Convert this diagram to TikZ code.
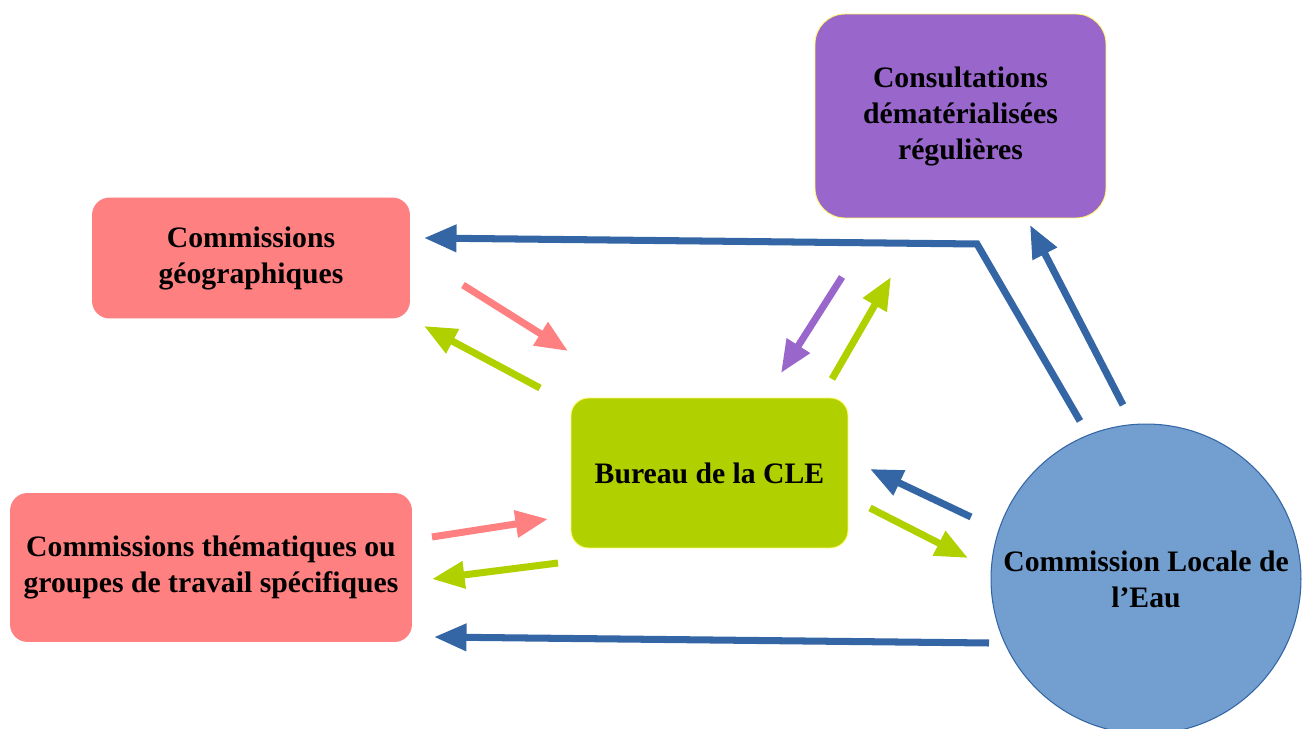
\documentclass[tikz,border=0pt]{standalone}
\usepackage{fontspec}
\setmainfont{Liberation Serif}
\usetikzlibrary{arrows.meta}
\definecolor{rose}{HTML}{FF8080}\definecolor{lime}{HTML}{B0D000}\definecolor{mauve}{HTML}{9966CC}
\definecolor{ciel}{HTML}{729FCF}\definecolor{marine}{HTML}{3465A4}
\tikzset{b/.style={rounded corners=10pt,align=center,font=\bfseries\fontsize{16.9}{20.5}\selectfont,inner sep=2pt},
 ar/.style={line width=4pt,-{Triangle[length=0.65cm,width=0.52cm]}}}

\begin{document}
\begin{tikzpicture}[x=0.02cm,y=-0.02cm]
\useasboundingbox (0,0) rectangle (1306,729);
\node[b,fill=rose,minimum width=6.36cm,minimum height=2.42cm](geo) at (251,258){Commissions\\géographiques};
\node[b,fill=rose,minimum width=8.04cm,minimum height=2.98cm](them) at (211,567.5){Commissions thématiques ou\\groupes de travail spécifiques};
\node[b,fill=lime,draw=yellow!60,line width=0.5pt,minimum width=5.54cm,minimum height=3cm](bur) at (709.5,473){Bureau de la CLE};
\node[b,fill=mauve,draw=yellow!60,line width=0.5pt,rounded corners=17pt,minimum width=5.82cm,minimum height=4.08cm](cons) at (960.5,116){Consultations\\dématérialisées\\régulières};
\node[b,circle,fill=ciel,draw=marine,line width=0.6pt,inner sep=0pt,minimum size=6.2cm](cle) at (1146,579){Commission Locale de\\l’Eau};
% free ends of the arrows
\coordinate(p1) at (1080,421);\coordinate(k1) at (977,244);\coordinate(q1) at (424,238);
\coordinate(p2) at (1123,405);\coordinate(q2) at (1030,225);
\coordinate(p3) at (971,517);\coordinate(q3) at (870,469);
\coordinate(p4) at (870,508);\coordinate(q4) at (968,558);
\coordinate(p5) at (989,643);\coordinate(q5) at (434,637);
\coordinate(p6) at (463,285);\coordinate(q6) at (568,351);
\coordinate(p7) at (540,388);\coordinate(q7) at (424,326);
\coordinate(p8) at (842,277);\coordinate(q8) at (781,373);
\coordinate(p9) at (832,379);\coordinate(q9) at (891,277);
\coordinate(p10) at (432,537);\coordinate(q10) at (548,519);
\coordinate(p11) at (558,563);\coordinate(q11) at (432,579);
\draw[ar,marine](p1)--(k1)--(q1);\draw[ar,marine](p2)--(q2);\draw[ar,marine](p3)--(q3);\draw[ar,marine](p5)--(q5);
\draw[ar,lime](p4)--(q4);\draw[ar,lime](p7)--(q7);\draw[ar,lime](p9)--(q9);\draw[ar,lime](p11)--(q11);
\draw[ar,rose](p6)--(q6);\draw[ar,rose](p10)--(q10);\draw[ar,mauve](p8)--(q8);
\end{tikzpicture}
\end{document}
